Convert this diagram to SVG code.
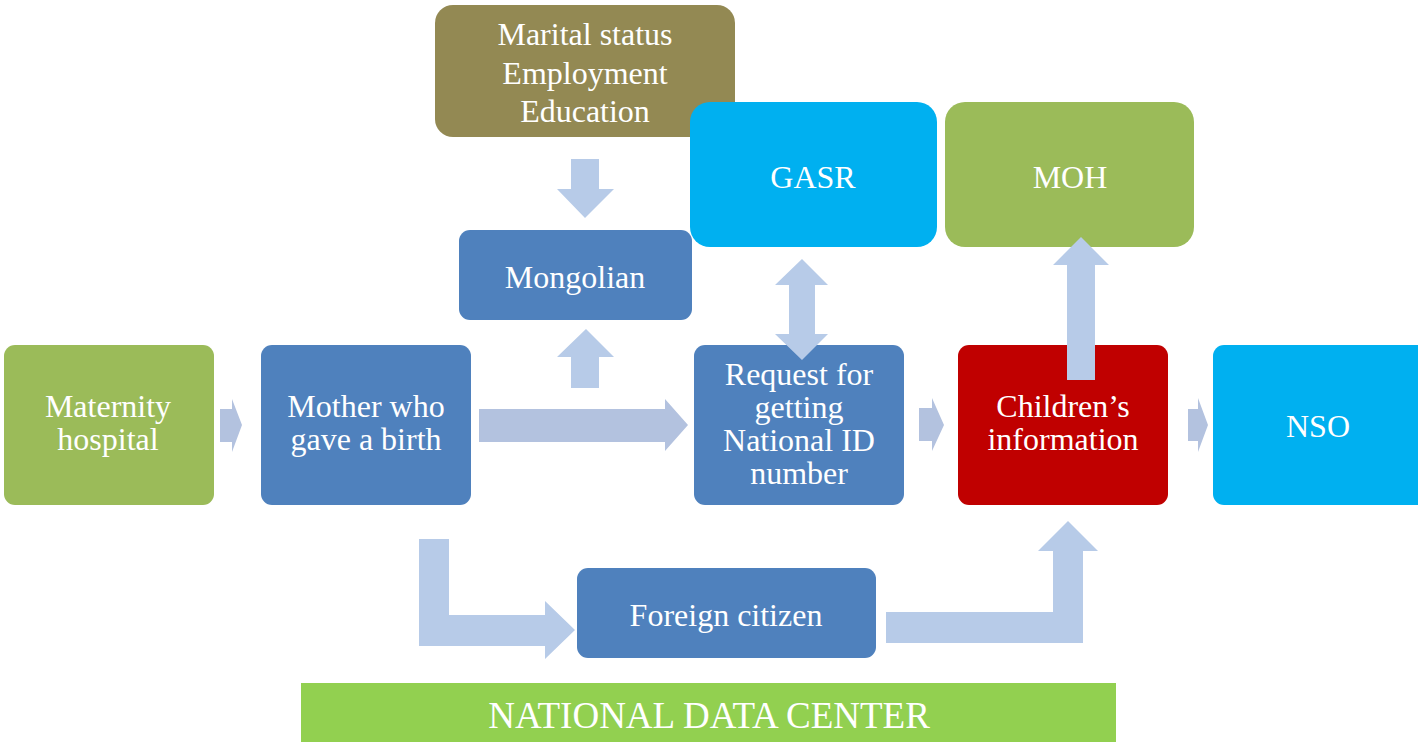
<svg xmlns="http://www.w3.org/2000/svg" width="1418" height="742" viewBox="0 0 1418 742">
<style>
.t{font-family:"Liberation Serif","Times New Roman",serif;font-size:32px;fill:#fff;text-anchor:middle}
.big{font-size:37px}
.ar{fill:#B7CBE8}
.ah{fill:#B3C2DF}
.blue{fill:#4F81BD}
.green{fill:#9BBB59}
.cyan{fill:#00B0F0}
</style>
<rect width="1418" height="742" fill="#fff"/>
<g id="maternity">
<rect class="green" x="4" y="345" width="210" height="160" rx="11"/>
<text class="t" x="108" y="417">Maternity</text>
<text class="t" x="108" y="450">hospital</text>
</g>
<g id="mother">
<rect class="blue" x="261" y="345" width="210" height="160" rx="11"/>
<text class="t" x="366" y="417">Mother who</text>
<text class="t" x="366" y="450">gave a birth</text>
</g>
<g id="attributes">
<rect fill="#938953" x="435" y="5" width="300" height="132" rx="18"/>
<text class="t" x="585" y="45">Marital status</text>
<text class="t" x="585" y="84">Employment</text>
<text class="t" x="585" y="122">Education</text>
</g>
<g id="gasr">
<rect class="cyan" x="690" y="102" width="247" height="145" rx="20"/>
<text class="t" x="813" y="188">GASR</text>
</g>
<g id="moh">
<rect class="green" x="945" y="102" width="249" height="145" rx="20"/>
<text class="t" x="1070" y="188">MOH</text>
</g>
<g id="mongolian">
<rect class="blue" x="459" y="230" width="233" height="90" rx="11"/>
<text class="t" x="575" y="288">Mongolian</text>
</g>
<g id="request">
<rect class="blue" x="694" y="345" width="210" height="160" rx="11"/>
<text class="t" x="799" y="385">Request for</text>
<text class="t" x="799" y="418">getting</text>
<text class="t" x="799" y="451">National ID</text>
<text class="t" x="799" y="484">number</text>
</g>
<g id="children">
<rect fill="#C00000" x="958" y="345" width="210" height="160" rx="11"/>
<text class="t" x="1063" y="417">Children’s</text>
<text class="t" x="1063" y="450">information</text>
</g>
<g id="nso">
<rect class="cyan" x="1213" y="345" width="215" height="160" rx="11"/>
<text class="t" x="1318" y="437">NSO</text>
</g>
<g id="foreign">
<rect class="blue" x="577" y="568" width="299" height="90" rx="11"/>
<text class="t" x="726" y="626">Foreign citizen</text>
</g>
<g id="datacenter">
<rect fill="#92D050" x="301" y="683" width="815" height="59"/>
<text class="t big" x="709" y="728">NATIONAL DATA CENTER</text>
</g>
<g id="connectors">
<polygon class="ah" points="220,409 232,409 232,399 242,425 232,452 232,442 220,442"/>
<polygon class="ah" points="479,409 665,409 665,399 688,425 665,451 665,442 479,442"/>
<polygon class="ar" points="571,388 571,357 557,357 586,329 614,357 599,357 599,388"/>
<polygon class="ar" points="571,159 599,159 599,189 614,189 585,218 557,189 571,189"/>
<polygon class="ar" points="802,259 828,285 815,285 815,334 828,334 802,360 775,334 789,334 789,285 775,285"/>
<polygon class="ar" points="1067,380 1067,265 1053,265 1081,237 1109,265 1095,265 1095,380"/>
<polygon class="ah" points="919,408 932,408 932,398 944,425 932,451 932,441 919,441"/>
<polygon class="ah" points="1188,409 1198,409 1198,398 1208,425 1198,452 1198,441 1188,441"/>
<polygon class="ar" points="419,539 449,539 449,615 545,615 545,601 575,630 545,659 545,646 419,646"/>
<polygon class="ar" points="886,612 1053,612 1053,551 1038,551 1068,521 1098,551 1083,551 1083,643 886,643"/>
</g>
</svg>
